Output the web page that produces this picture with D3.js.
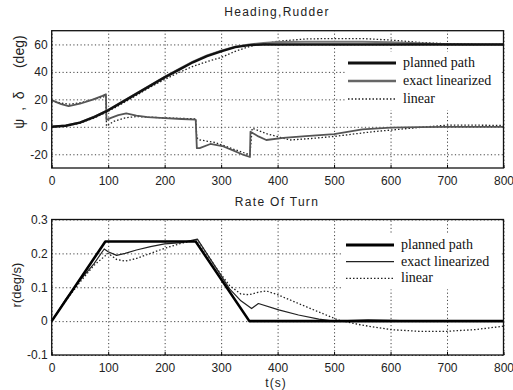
<!DOCTYPE html>
<html>
<head>
<meta charset="utf-8">
<script src="https://cdn.jsdelivr.net/npm/d3@7"></script>
<style>
  body { margin: 0; background: #fff; }
  svg { display: block; }
  .tick text { font-family: "Liberation Sans", Arial, sans-serif; font-size: 12px; fill: #222; }
  .grid line { stroke: #444; stroke-width: 1; stroke-dasharray: 1.2,2.4; }
  .grid path { display: none; }
  .lbl path { display: none; }
</style>
</head>
<body>
<svg id="chart" width="513" height="390"></svg>
<script>
// ---- heading (deg) ----
const tHead = [0, 25, 50, 75, 100, 125, 150, 175, 200, 225, 250, 275, 300, 325, 350, 375, 400, 450, 500, 550, 600, 650, 700, 750, 800];
const headPlanned = [0, 0.8, 3, 7, 12, 18, 24, 30, 36, 41.5, 47, 51.5, 55, 58, 59.5, 60, 60, 60, 60, 60, 60, 60, 60, 60, 60];
const headExact = [0, 0.9, 3.2, 7.3, 12.3, 18.3, 24.3, 30.3, 36.3, 42, 47.5, 52, 55.5, 58.3, 60, 61, 61.7, 62, 62, 61.9, 61.6, 60.8, 60.2, 60, 60];
const headLinear = [0, 0.6, 2.6, 6.4, 11.2, 17, 23, 29, 34.5, 39.5, 44, 47.5, 50.5, 55, 58.5, 60.5, 62.3, 64, 64.3, 64.3, 63.2, 61.5, 60.5, 60.1, 60];

// ---- rudder (deg) ----
const tRudExact = [0, 8, 17, 30, 50, 70, 90, 96, 97, 105, 118, 132, 150, 170, 200, 230, 255, 257, 262, 281, 302, 320, 340, 351, 352, 366, 380, 410, 450, 500, 550, 600, 650, 700, 800];
const rudExact = [19.5, 18, 16.5, 15, 16.8, 19.5, 22.5, 23.7, 5, 6.5, 8.5, 9.7, 8.2, 7, 6.3, 5.7, 5.2, -15.5, -15.5, -12.5, -14, -17, -20.5, -22, -3.6, -7, -9.6, -8, -6.8, -5.3, -1.8, -0.6, -0.2, 0, 0];
const tRudLinear = [0, 17, 32, 50, 70, 90, 96, 97, 110, 130, 150, 200, 255, 257, 262, 290, 320, 350, 351, 355, 380, 422, 460, 500, 540, 570, 600, 650, 700, 750, 800];
const rudLinear = [19, 17.2, 16.5, 17.5, 19.5, 21.5, 22.5, 0.5, 4, 6.5, 7.5, 6.5, 5.8, -8, -9.5, -11.5, -16, -20.3, -20.3, -1, -5, -9.6, -8.5, -7, -5, -3.5, -2.4, -0.5, 1.2, 1.2, 1];

// ---- rate of turn (deg/s) ----
const tRatePlanned = [0, 95, 255, 350, 800];
const ratePlanned = [0, 0.235, 0.235, 0, 0];
const tRateExact = [0, 25, 50, 75, 93, 100, 115, 130, 150, 175, 200, 230, 258, 290, 315, 335, 354, 366, 402, 437, 473, 500, 560, 600, 650, 800];
const rateExact = [0, 0.065, 0.12, 0.17, 0.213, 0.205, 0.194, 0.2, 0.21, 0.22, 0.228, 0.232, 0.242, 0.16, 0.095, 0.06, 0.037, 0.052, 0.033, 0.018, 0.006, 0, 0.004, 0.002, 0, 0];
const tRateLinear = [0, 25, 50, 75, 100, 115, 130, 150, 175, 200, 230, 258, 290, 315, 335, 350, 365, 380, 400, 437, 473, 508, 550, 600, 650, 700, 750, 800];
const rateLinear = [0, 0.06, 0.115, 0.165, 0.2, 0.182, 0.177, 0.185, 0.2, 0.215, 0.23, 0.24, 0.16, 0.105, 0.08, 0.078, 0.085, 0.089, 0.078, 0.052, 0.027, 0.003, -0.012, -0.025, -0.03, -0.03, -0.025, -0.015];

const xTicks = [0, 100, 200, 300, 400, 500, 600, 700, 800];
const headTicks = [-20, 0, 20, 40, 60];
const rateTicks = [-0.1, 0, 0.1, 0.2, 0.3];
const legendNames = ["planned path", "exact linearized", "linear"];

const svg = d3.select("#chart");
const left = 51.7, right = 503.5;

const x = d3.scaleLinear().domain([0, 800]).range([left, right]);

function pts(ts, vs) { return ts.map((t, i) => [t, vs[i]]); }

function panel(cfg) {
  const y = d3.scaleLinear().domain(cfg.domain).range([cfg.bottom, cfg.top]);
  const h = cfg.bottom - cfg.top;
  const g = svg.append("g");

  // dotted grid
  g.append("g").attr("class", "grid")
    .attr("transform", "translate(0," + cfg.bottom + ")")
    .call(d3.axisBottom(x).tickValues(xTicks).tickSize(-h).tickFormat(""));
  g.append("g").attr("class", "grid")
    .attr("transform", "translate(" + left + ",0)")
    .call(d3.axisLeft(y).tickValues(cfg.ticks).tickSize(-(right - left)).tickFormat(""));

  // tick labels
  g.append("g").attr("class", "lbl")
    .attr("transform", "translate(0," + cfg.bottom + ")")
    .call(d3.axisBottom(x).tickValues(xTicks).tickSize(3).tickPadding(cfg.xpad))
    .selectAll("line").attr("stroke", "#000").attr("transform", "translate(0,-3)");
  g.append("g").attr("class", "lbl")
    .attr("transform", "translate(" + left + ",0)")
    .call(d3.axisLeft(y).tickValues(cfg.ticks).tickSize(0).tickPadding(4).tickFormat(cfg.fmt));

  // legend background (hides the grid behind it)
  const lb = cfg.legend;
  g.append("rect")
    .attr("x", lb.x - 3).attr("y", lb.y - 11)
    .attr("width", right - 2 - (lb.x - 3)).attr("height", lb.dy * 2 + 22)
    .attr("fill", "#fff");

  // lines
  const line = d3.line().x(d => x(d[0])).y(d => y(d[1]));
  cfg.series.forEach(s => {
    g.append("path")
      .datum(s.data)
      .attr("fill", "none")
      .attr("stroke", s.color)
      .attr("stroke-width", s.width)
      .attr("stroke-dasharray", s.dash || null)
      .attr("stroke-linejoin", "round")
      .attr("d", line);
  });

  // frame
  g.append("rect")
    .attr("x", left).attr("y", cfg.top)
    .attr("width", right - left).attr("height", h)
    .attr("fill", "none").attr("stroke", "#111").attr("stroke-width", 1.3);

  // title
  svg.append("text")
    .attr("x", 277).attr("y", cfg.titleY)
    .attr("text-anchor", "middle")
    .style("font-family", "Liberation Sans, Arial, sans-serif")
    .style("font-size", "12px").style("letter-spacing", "1.3px").attr("fill", "#222")
    .text(cfg.title);

  // legend
  const lg = svg.append("g");
  lb.styles.forEach((s, i) => {
    const yy = lb.y + i * lb.dy;
    lg.append("line")
      .attr("x1", lb.x).attr("x2", lb.x + 48)
      .attr("y1", yy).attr("y2", yy)
      .attr("stroke", s.color).attr("stroke-width", s.width)
      .attr("stroke-dasharray", s.dash || null);
    lg.append("text")
      .attr("x", lb.x + 55).attr("y", yy + 4)
      .style("font-family", "Liberation Serif, Times New Roman, serif")
      .style("font-size", "14px").attr("fill", "#111")
      .text(legendNames[i]);
  });
  return y;
}

const dotStyle = { color: "#222", width: 1.3, dash: "1.5,2" };

panel({
  domain: [-30, 70], top: 30.7, bottom: 168, ticks: headTicks,
  fmt: d => String(d), xpad: 5, titleY: 16,
  title: "Heading,Rudder",
  series: [
    { data: pts(tRudLinear, rudLinear), ...dotStyle },
    { data: pts(tRudExact, rudExact), color: "#555", width: 1.8 },
    { data: pts(tHead, headLinear), ...dotStyle },
    { data: pts(tHead, headExact), color: "#777", width: 2 },
    { data: pts(tHead, headPlanned), color: "#111", width: 2.4 }
  ],
  legend: {
    x: 348, y: 63, dy: 18,
    styles: [{ color: "#111", width: 3.2 }, { color: "#666", width: 2.5 }, dotStyle]
  }
});

panel({
  domain: [-0.1, 0.3], top: 219.5, bottom: 355, ticks: rateTicks,
  fmt: d => d === 0 ? "0" : String(Math.round(d * 10) / 10), xpad: 5, titleY: 206,
  title: "Rate Of Turn",
  series: [
    { data: pts(tRateLinear, rateLinear), ...dotStyle },
    { data: pts(tRateExact, rateExact), color: "#222", width: 1.2 },
    { data: pts(tRatePlanned, ratePlanned), color: "#000", width: 2.6 }
  ],
  legend: {
    x: 346, y: 245, dy: 16.7,
    styles: [{ color: "#000", width: 3.2 }, { color: "#222", width: 1.3 }, dotStyle]
  }
});

// axis labels
svg.append("text")
  .attr("transform", "translate(24,82) rotate(-90)")
  .attr("text-anchor", "middle")
  .style("font-family", "Liberation Sans, Arial, sans-serif")
  .style("font-size", "14px").style("white-space", "pre").attr("fill", "#222")
  .text("ψ  ,  δ      (deg)");
svg.append("text")
  .attr("transform", "translate(21,285) rotate(-90)")
  .attr("text-anchor", "middle")
  .style("font-family", "Liberation Sans, Arial, sans-serif")
  .style("font-size", "13px").attr("fill", "#222")
  .text("r(deg/s)");
svg.append("text")
  .attr("x", 276).attr("y", 387)
  .attr("text-anchor", "middle")
  .style("font-family", "Liberation Sans, Arial, sans-serif")
  .style("font-size", "12px").style("letter-spacing", "1px").attr("fill", "#222")
  .text("t(s)");
</script>
</body>
</html>
